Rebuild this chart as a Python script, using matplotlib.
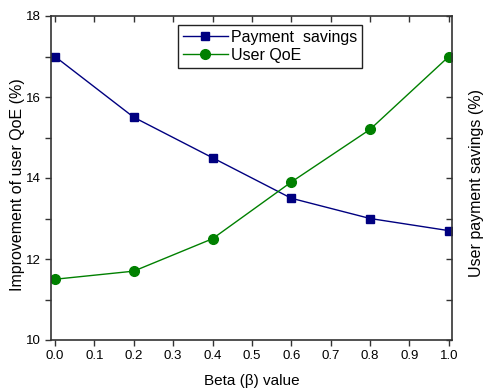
import matplotlib
matplotlib.use("Agg")
import matplotlib.pyplot as plt
from matplotlib.ticker import MultipleLocator

plt.rcParams['font.family'] = ['Liberation Sans', 'DejaVu Sans']

beta = [0.0, 0.2, 0.4, 0.6, 0.8, 1.0]
payment_savings = [17.0, 15.5, 14.5, 13.5, 13.0, 12.7]
user_qoe = [11.5, 11.7, 12.5, 13.9, 15.2, 17.0]

fig = plt.figure(figsize=(4.83, 3.88), dpi=100)
ax = fig.add_axes([51/483, 1 - 340/388, (452-51)/483, (340-16)/388])

ax.plot(beta, payment_savings, color='#000080', marker='s', markersize=6,
        linewidth=1, label='Payment  savings')
ax.plot(beta, user_qoe, color='#008000', marker='o', markersize=7,
        linewidth=1, label='User QoE')

ax.set_xlim(-0.01, 1.008)
ax.set_ylim(10, 18)
ax.xaxis.set_major_locator(MultipleLocator(0.1))
ax.yaxis.set_major_locator(MultipleLocator(2))
ax.yaxis.set_minor_locator(MultipleLocator(1))
ax.xaxis.set_major_formatter(matplotlib.ticker.FormatStrFormatter('%.1f'))

ax.tick_params(axis='both', which='both', labelsize=9.5, width=1, color='#333333')
ax.tick_params(axis='x', which='major', direction='out', length=4, top=False)
ax.tick_params(axis='y', which='major', direction='out', length=4, right=False)
ax.tick_params(axis='y', which='minor', direction='out', length=4, right=False)

for s in ax.spines.values():
    s.set_linewidth(1.2)
    s.set_color('#333333')

# mirrored inward ticks on top and right
ax2 = ax.twinx()
ax2.set_ylim(10, 18)
ax2.yaxis.set_major_locator(MultipleLocator(2))
ax2.yaxis.set_minor_locator(MultipleLocator(1))
ax2.tick_params(axis='y', which='both', direction='in', length=4, labelright=False,
                width=1, color='#333333')

ax3 = ax.twiny()
ax3.set_xlim(ax.get_xlim())
ax3.xaxis.set_major_locator(MultipleLocator(0.1))
ax3.tick_params(axis='x', direction='in', length=4, labeltop=False,
                width=1, color='#333333')
for a in (ax2, ax3):
    for s in a.spines.values():
        s.set_visible(False)

ax.set_xlabel('Beta (\u03b2) value', fontsize=11, labelpad=8)
fig.text(18/483, 1 - 185/388, 'Improvement of user QoE (%)', rotation=90,
         ha='center', va='center', fontsize=11.5)
fig.text(477/483, 1 - 183/388, 'User payment savings (%)', rotation=90,
         ha='center', va='center', fontsize=11.5)

leg = ax.legend(loc='upper left', bbox_to_anchor=((178-51)/401, 1 - (25-16)/324),
                fontsize=11.5, fancybox=False, edgecolor='#222222', framealpha=1,
                handlelength=2.8, borderpad=0.3, labelspacing=0.2,
                handletextpad=0.2, borderaxespad=0)
leg.get_frame().set_linewidth(1)
leg.set_zorder(10)
ax.set_zorder(ax3.get_zorder() + 1)
ax.patch.set_visible(False)

fig.savefig('out.png', dpi=100)
